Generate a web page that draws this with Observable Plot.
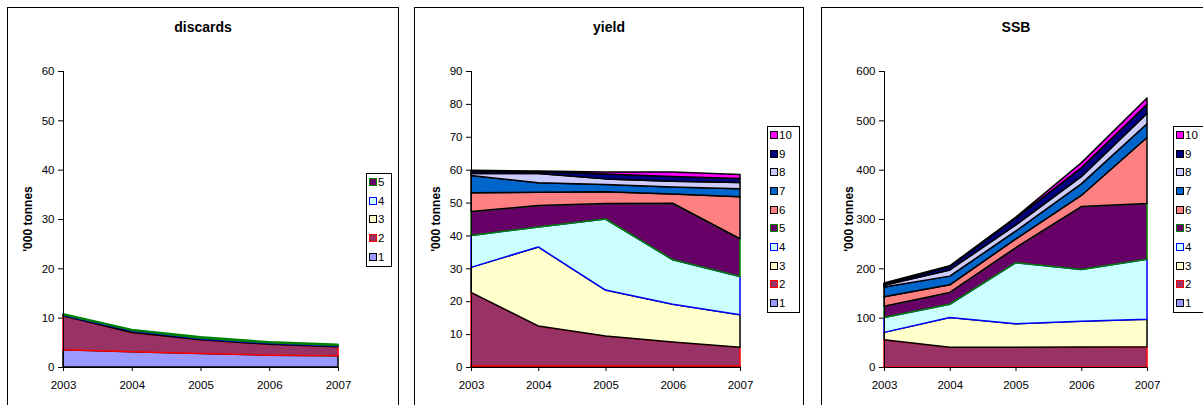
<!DOCTYPE html>
<html>
<head>
<meta charset="utf-8">
<script src="https://cdn.jsdelivr.net/npm/d3@7"></script>
<script src="https://cdn.jsdelivr.net/npm/@observablehq/plot@0.6"></script>
<style>
  body { margin: 0; width: 1203px; height: 405px; overflow: hidden; background: #fff; position: relative;
         font-family: Arial, "Liberation Sans", sans-serif; color: #000; }
  .frame { position: absolute; top: 7px; height: 420px; border: 1px solid #000; background: #fff; box-sizing: border-box; }
  .title { position: absolute; top: 19px; font-weight: bold; font-size: 14px; line-height: 16px; text-align: center; }
  .ylabel { position: absolute; font-weight: bold; font-size: 12px; white-space: nowrap;
            transform: translate(-50%, -50%) rotate(-90deg); }
  .chart { position: absolute; top: 0; }
  .legend { position: absolute; border: 1px solid #000; background: #fff; box-sizing: border-box; font-size: 11.5px; }
  .row { position: absolute; left: 0; height: 14px; line-height: 14px; white-space: nowrap; }
  .sw { position: absolute; top: 3px; width: 8px; height: 8px; box-sizing: border-box; border: 1.5px solid #000; }
  .lab { position: absolute; top: 0; }
</style>
</head>
<body>
<script>
// Years on the x axis
const years = [2003, 2004, 2005, 2006, 2007];

// Age classes and their fill / outline colours
const ages = [1, 2, 3, 4, 5, 6, 7, 8, 9, 10];
const fills   = ["#9999FF", "#993366", "#FFFFCC", "#CCFFFF", "#660066", "#FF8080", "#0066CC", "#CCCCFF", "#000080", "#FF00FF"];
const strokes = ["#000000", "#FF0000", "#000000", "#0000FF", "#008000", "#000000", "#000000", "#000000", "#000000", "#000000"];

// Discards by age ('000 tonnes), one row per age, one column per year
const discards = [
  [3.5, 3.1, 2.75, 2.4, 2.3],
  [6.9, 3.9, 2.75, 2.2, 1.8],
  [0.1, 0.35, 0.2, 0.2, 0.15],
  [0.1, 0.1, 0.15, 0.1, 0.1],
  [0.2, 0.15, 0.3, 0.2, 0.25]
];

// Yield by age ('000 tonnes)
const yieldByAge = [
  [0.3, 0.3, 0.3, 0.3, 0.3],
  [22.4, 12.2, 9.1, 7.3, 5.7],
  [7.6, 24.0, 14.0, 11.5, 9.9],
  [9.7, 6.1, 21.6, 13.5, 11.6],
  [7.3, 6.5, 4.7, 17.2, 11.5],
  [5.7, 4.0, 3.6, 2.8, 12.8],
  [5.2, 2.9, 2.2, 2.1, 2.4],
  [0.6, 2.8, 1.7, 1.8, 1.9],
  [0.7, 0.6, 1.5, 1.4, 1.2],
  [0.3, 0.2, 0.6, 1.4, 1.2]
];

// Spawning stock biomass by age ('000 tonnes)
const ssb = [
  [0.2, 0.2, 0.2, 0.2, 0.2],
  [55, 40, 40, 40.5, 41],
  [15, 60, 47.5, 52, 55.5],
  [30, 27, 123.5, 105, 121.5],
  [23, 24, 30.5, 127.6, 113],
  [19, 15.5, 17.5, 22.4, 134],
  [20, 17.5, 16, 23.5, 28],
  [3.5, 12.5, 12.5, 14.5, 20.5],
  [2.5, 7, 13.5, 18, 19],
  [2, 1.5, 2, 10, 12.5]
];

const font = 'Arial, "Liberation Sans", sans-serif';

function el(cls, css, text) {
  const d = document.createElement("div");
  d.className = cls;
  Object.assign(d.style, css);
  if (text != null) d.textContent = text;
  document.body.appendChild(d);
  return d;
}

function panel(cfg) {
  const {title, values, frameLeft, frameWidth, left, width, ml, mr, ymax, ystep, legend} = cfg;
  const n = values.length;

  el("frame", {left: frameLeft + "px", width: frameWidth + "px"});
  el("title", {left: frameLeft + "px", width: frameWidth + "px"}, title);

  // long table: one row per (year, age)
  const rows = years.flatMap((yr, i) => values.map((v, j) => ({year: yr, age: ages[j], value: v[i]})));

  const chart = Plot.plot({
    width, height: 405,
    marginLeft: ml, marginRight: mr, marginTop: 71, marginBottom: 38,
    x: {domain: [2003, 2007], ticks: years, tickFormat: "d", label: null, tickSize: 4, tickPadding: 9},
    y: {domain: [0, ymax], ticks: d3.range(0, ymax + 1, ystep), label: null, tickSize: 5, tickPadding: 4},
    color: {type: "identity"},
    style: {fontFamily: font, fontSize: "11.5px", color: "#000", background: "transparent", overflow: "visible"},
    marks: [
      Plot.areaY(rows, {
        x: "year", y: "value", z: "age",
        fill: d => fills[d.age - 1],
        stroke: d => strokes[d.age - 1],
        strokeWidth: 1.5, strokeLinejoin: "round"
      }),
      Plot.ruleX([2003], {y1: 0, y2: ymax, stroke: "#000"}),
      Plot.ruleY([0], {stroke: "#000"})
    ]
  });
  chart.classList.add("chart");
  chart.style.left = left + "px";
  document.body.appendChild(chart);

  el("ylabel", {left: (left + ml - 35) + "px", top: "219px"}, "'000 tonnes");

  // legend, highest age on top
  const box = el("legend", {left: legend.x + "px", top: legend.y + "px", width: legend.w + "px", height: legend.h + "px"});
  for (let k = 0; k < n; k++) {
    const j = n - 1 - k;
    const r = document.createElement("div");
    r.className = "row";
    r.style.top = (1 + k * 18.65) + "px";
    const sw = document.createElement("div");
    sw.className = "sw";
    sw.style.left = "2px";
    sw.style.background = fills[j];
    sw.style.borderColor = strokes[j];
    const t = document.createElement("div");
    t.className = "lab";
    t.style.left = "11px";
    t.textContent = ages[j];
    r.appendChild(sw);
    r.appendChild(t);
    box.appendChild(r);
  }
}

panel({title: "discards", values: discards, frameLeft: 7, frameWidth: 392,
       left: 0, width: 400, ml: 63, mr: 62, ymax: 60, ystep: 10,
       legend: {x: 366, y: 173, w: 26, h: 94}});
panel({title: "yield", values: yieldByAge, frameLeft: 414, frameWidth: 390,
       left: 405, width: 400, ml: 66, mr: 65, ymax: 90, ystep: 10,
       legend: {x: 767, y: 126, w: 33, h: 187}});
panel({title: "SSB", values: ssb, frameLeft: 821, frameWidth: 390,
       left: 815, width: 388, ml: 69, mr: 56, ymax: 600, ystep: 100,
       legend: {x: 1173, y: 126, w: 40, h: 187}});
</script>
</body>
</html>
